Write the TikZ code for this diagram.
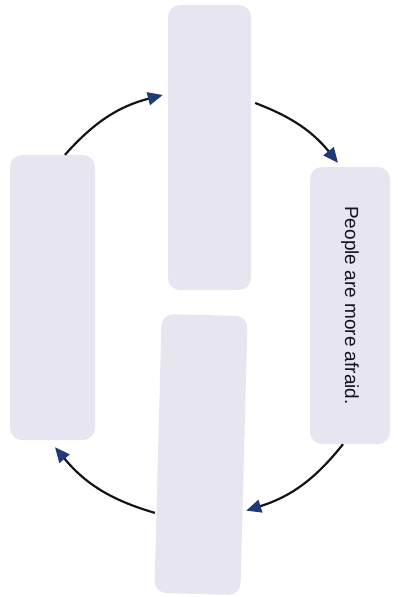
\documentclass[tikz,border=0pt]{standalone}
\usepackage{fontspec}
\setmainfont{Liberation Sans}
\usepackage{tikz}
\usetikzlibrary{arrows.meta}
\definecolor{boxfill}{HTML}{E7E5EF}
\definecolor{arrowhead}{HTML}{1F3A78}
\definecolor{inkline}{HTML}{14141C}
\tikzset{
  stage/.style={rectangle, rounded corners=12pt, fill=boxfill, draw=none, inner sep=0pt},
  cyc/.style={draw=inkline, line width=2.2pt,
              -{Triangle[length=15pt,width=13pt,fill=arrowhead,color=arrowhead]}},
}

\begin{document}
\begin{tikzpicture}[x=1pt,y=-1pt]
\useasboundingbox (0,0) rectangle (397,597);
% Boxes
\node[stage, minimum width=83pt, minimum height=285pt] (top) at (209.5,147.5) {};
\node[stage, minimum width=85pt, minimum height=285pt] (lft) at (52.5,297.5) {};
\node[stage, minimum width=80pt, minimum height=277pt] (rgt) at (350,305.5) {};
\node[stage, minimum width=86pt, minimum height=279pt, rotate=-1.5] (bot) at (201,454.5) {};
% Text
\node[rotate=-90, text=inkline, font=\fontsize{19}{23}\selectfont] (rgttext) at (rgt.center) {People are more afraid.};
% Arrows
\draw[cyc] ([xshift=12.5pt]lft.north) to[bend left=17] ([shift={(-5pt,52.5pt)}]top.west);
\draw[cyc] ([shift={(4pt,44.5pt)}]top.east) to[bend left=15] ([shift={(-12pt,4pt)}]rgt.north);
\draw[cyc] ([xshift=-7pt]rgt.south) to[bend left=17] ([shift={(2pt,-55pt)}]bot.east);
\draw[cyc] ([shift={(-3pt,-59.5pt)}]bot.west) to[bend left=17] ([shift={(2.5pt,-7pt)}]lft.south);
\end{tikzpicture}
\end{document}
